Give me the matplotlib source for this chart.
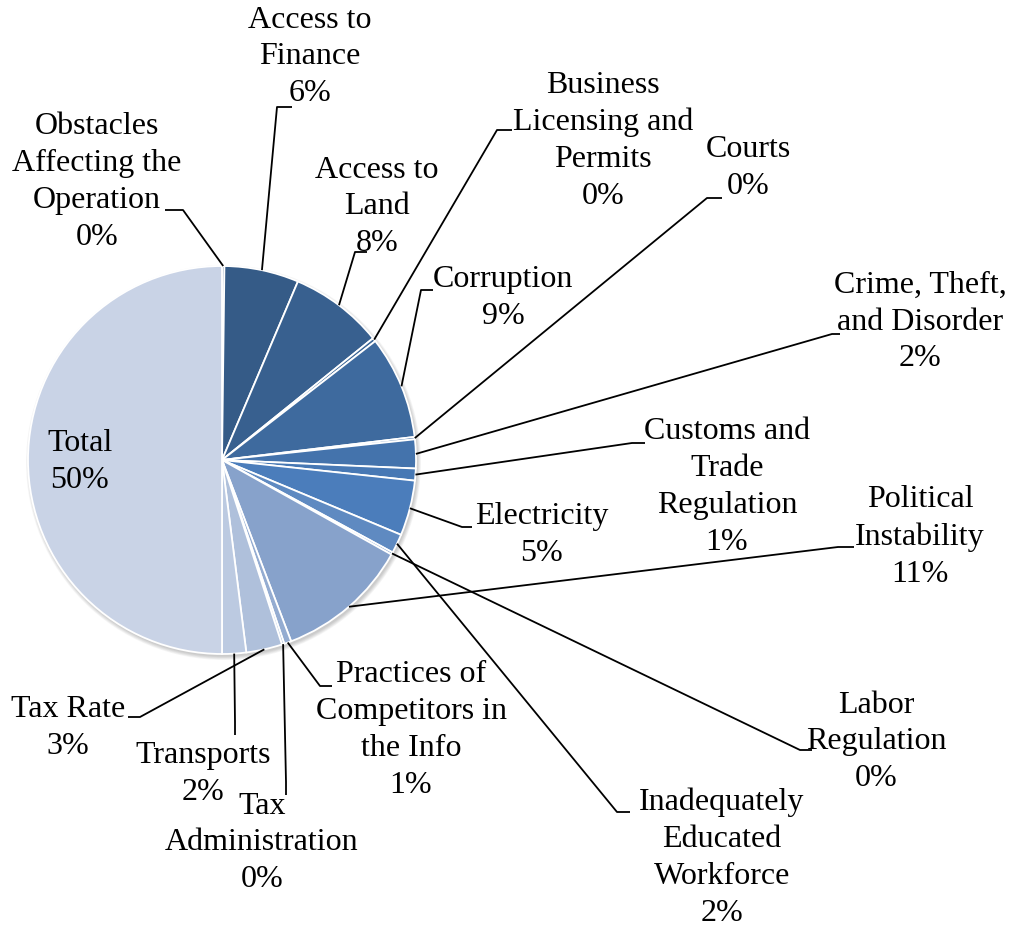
import matplotlib.pyplot as plt
import numpy as np
from matplotlib.colors import LinearSegmentedColormap
from matplotlib.patches import Circle

W, H = 1014, 931

categories = ['Obstacles\nAffecting the\nOperation', 'Access to\nFinance', 'Access to\nLand',
              'Business\nLicensing and\nPermits', 'Corruption', 'Courts',
              'Crime, Theft,\nand Disorder', 'Customs and\nTrade\nRegulation', 'Electricity',
              'Inadequately\nEducated\nWorkforce', 'Labor\nRegulation', 'Political\nInstability',
              'Practices of\nCompetitors in\nthe Info', 'Tax\nAdministration', 'Tax Rate',
              'Transports', 'Total']
shares = [0.2, 6.2, 7.8, 0.3, 8.6, 0.2, 2.4, 1.0, 4.6, 1.6, 0.2, 11.1, 0.6, 0.2, 3.0, 2.0, 50.0]

# label block centres, leader elbows and tick ends (pixel coords, y down)
label_xy = [(97, 182), (310, 57), (377, 207), (603, 141), (503, 298), (748, 168),
            (920, 322), (727, 487), (542, 535), (722, 858), (876, 742), (920, 537),
            (411, 730), (262, 843), (68, 728), (203, 774), (80, 462)]
elbow_xy = [(183, 210), (277, 107), (355, 252), (497, 130), (421, 290), (707, 198),
            (832, 334), (632, 443), (462, 527), (617, 812), (800, 750), (838, 547),
            (320, 686), (286, 782), (140, 717), (235, 722), None]
tick_xy = [(165, 210), (292, 107), (367, 252), (512, 130), (433, 290), (722, 198),
           (840, 334), (645, 443), (472, 527), (630, 812), (812, 750), (854, 547),
           (332, 686), (286, 795), (128, 717), (235, 735), None]

def P(x, y):
    return (x, H - y)

cx, cy = P(222, 460)
R = 194

cmap = LinearSegmentedColormap.from_list(
    'blues', [(0.0, '#325680'), (0.5, '#4A7DBB'), (11 / 16, '#86A2CB'), (1.0, '#C9D3E6')])
colors = [cmap(i / (len(shares) - 1)) for i in range(len(shares))]

plt.rcParams['font.family'] = ['Liberation Serif', 'DejaVu Serif']

fig = plt.figure(figsize=(W / 100, H / 100), dpi=100)
ax = fig.add_axes([0, 0, 1, 1])

# soft shadow under the pie
for i in range(6):
    ax.add_patch(Circle((cx + 1.5, cy - 2.5), R + i * 0.7, color='k', alpha=0.035, lw=0, zorder=0))

wedges, _ = ax.pie(shares, colors=colors, startangle=90, counterclock=False,
                   center=(cx, cy), radius=R,
                   wedgeprops=dict(edgecolor='white', linewidth=1.3))
for w in wedges:
    w.set_zorder(2)

ax.set_xlim(0, W)
ax.set_ylim(0, H)
ax.set_aspect('equal')
ax.axis('off')

for w, name, v, lab, el, tk in zip(wedges, categories, shares, label_xy, elbow_xy, tick_xy):
    text = f'{name}\n{round(v)}%'
    ax.text(*P(*lab), text, ha='center', va='center', fontsize=23,
            linespacing=1.36, color='black', zorder=5)
    if el is None:
        continue
    mid = np.deg2rad((w.theta1 + w.theta2) / 2)
    sx, sy = cx + R * np.cos(mid), cy + R * np.sin(mid)
    ex, ey = P(*el)
    tx, ty = P(*tk)
    ax.plot([sx, ex, tx], [sy, ey, ty], color='black', lw=1.3, zorder=4,
            solid_capstyle='butt')

fig.savefig('out.png', dpi=100)
